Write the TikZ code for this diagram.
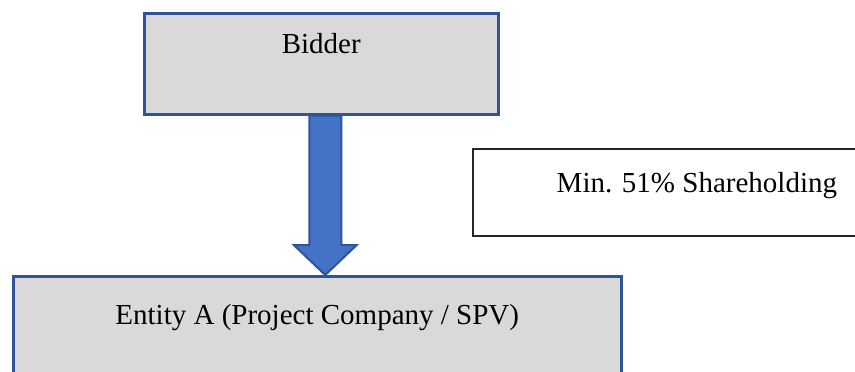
\documentclass[tikz,border=0pt]{standalone}
\usepackage{fontspec}
\setmainfont{Liberation Serif}
\usetikzlibrary{calc}

\definecolor{boxgray}{HTML}{D9D9D9}
\definecolor{boxblue}{HTML}{2F5597}
\definecolor{arrowblue}{HTML}{4472C4}

\begin{document}
\begin{tikzpicture}[x=1pt,y=-1pt,
  every node/.style={font=\fontsize{29}{34}\selectfont,inner xsep=0pt,inner ysep=0pt},
  gray box/.style={rectangle,fill=boxgray,draw=boxblue,line width=2.5pt},
  white box/.style={rectangle,fill=white,draw=black!85,line width=1.8pt},
  block arrow/.style={fill=arrowblue,draw=boxblue,line width=2pt,line join=miter}]

  \useasboundingbox (0,0) rectangle (855,372);
  \clip (0,0) rectangle (855,372);

  \node[gray box,anchor=north west,minimum width=354pt,text height=40pt,text depth=61pt] (bidder) at (143,12) {Bidder};
  \node[gray box,anchor=north west,minimum width=608pt,text height=48pt,text depth=57pt] (entity) at (12,275) {Entity A (Project Company / SPV)};
  \node[white box,anchor=north west,minimum width=448pt,text height=44pt,text depth=43pt] (share) at (472,148) {Min. 51\% Shareholding};

  % block arrow from bidder down to entity
  \path (bidder.south) ++(4,0) coordinate (a top);
  \coordinate (a tip) at (a top |- entity.north);
  \draw[block arrow] ($(a top)+(-16,0)$) -- ($(a tip)+(-16,-30)$) -- ($(a tip)+(-31.5,-30)$)
    -- (a tip) -- ($(a tip)+(31.5,-30)$) -- ($(a tip)+(16,-30)$) -- ($(a top)+(16,0)$) -- cycle;
\end{tikzpicture}
\end{document}
